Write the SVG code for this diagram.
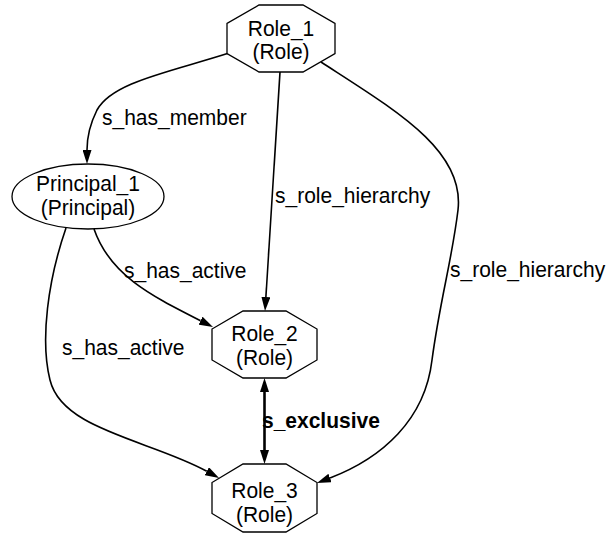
<svg xmlns="http://www.w3.org/2000/svg" width="611" height="535" viewBox="0 0 611 535">
<style>
.node{fill:#fff;stroke:#000;stroke-width:1.3}
.t{font-family:"Liberation Sans",Arial,sans-serif;font-size:21px;fill:#000}
.c{text-anchor:middle}
.b{font-weight:bold}
.e{fill:none;stroke:#000;stroke-width:1.6}
.eb{fill:none;stroke:#000;stroke-width:2.6}
</style>
<defs>
<marker id="ah" viewBox="0 0 14 9" refX="0" refY="4.5" markerWidth="14" markerHeight="9" markerUnits="userSpaceOnUse" orient="auto-start-reverse">
<path d="M0,0 L14,4.5 L0,9 z" fill="#000"/>
</marker>
</defs>
<g id="edges">
<path class="e" d="M229,53 C170,72 112,82 97,110 C89,126 87,138 87,150" marker-end="url(#ah)"/>
<path class="e" d="M280,72 L265.9,297" marker-end="url(#ah)"/>
<path class="e" d="M321,62 C395,110 465,150 458,210 C452,260 440,300 432,360 C425,420 382,458 330,478" marker-end="url(#ah)"/>
<path class="e" d="M94,229 C110,275 150,295 200.5,320.7" marker-end="url(#ah)"/>
<path class="e" d="M66,228 C48,280 40,340 50,380 C62,430 150,440 206.8,471.2" marker-end="url(#ah)"/>
<path class="eb" d="M264.5,392 L264.5,450" marker-start="url(#ah)" marker-end="url(#ah)"/>
<text class="t" transform="translate(102,125) scale(1,1.05)">s_has_member</text>
<text class="t" transform="translate(275,203) scale(1,1.05)">s_role_hierarchy</text>
<text class="t" transform="translate(450,277) scale(1,1.05)">s_role_hierarchy</text>
<text class="t" transform="translate(124,278) scale(1,1.05)">s_has_active</text>
<text class="t" transform="translate(62,355) scale(1,1.05)">s_has_active</text>
<text class="t b" transform="translate(262,428) scale(1,1.05)">s_exclusive</text>
</g>
<g id="Role_1">
<polygon class="node" points="259,5 303,5 335,23.5 335,53.5 303,72 259,72 227,53.5 227,23.5"/>
<text class="t c" transform="translate(281,35.5) scale(1,1.05)">Role_1</text>
<text class="t c" transform="translate(281,59) scale(1,1.05)">(Role)</text>
</g>
<g id="Principal_1">
<ellipse class="node" cx="88" cy="196.5" rx="76" ry="32.5"/>
<text class="t c" transform="translate(88,190.5) scale(1,1.05)">Principal_1</text>
<text class="t c" transform="translate(88,214.5) scale(1,1.05)">(Principal)</text>
</g>
<g id="Role_2">
<polygon class="node" points="243,311 286,311 317,329 317,360 286,378 243,378 212,360 212,329"/>
<text class="t c" transform="translate(264.5,340.5) scale(1,1.05)">Role_2</text>
<text class="t c" transform="translate(264.5,365) scale(1,1.05)">(Role)</text>
</g>
<g id="Role_3">
<polygon class="node" points="243,464 286,464 317,482.5 317,513.5 286,532 243,532 212,513.5 212,482.5"/>
<text class="t c" transform="translate(264.5,497.5) scale(1,1.05)">Role_3</text>
<text class="t c" transform="translate(264.5,521.5) scale(1,1.05)">(Role)</text>
</g>
</svg>
